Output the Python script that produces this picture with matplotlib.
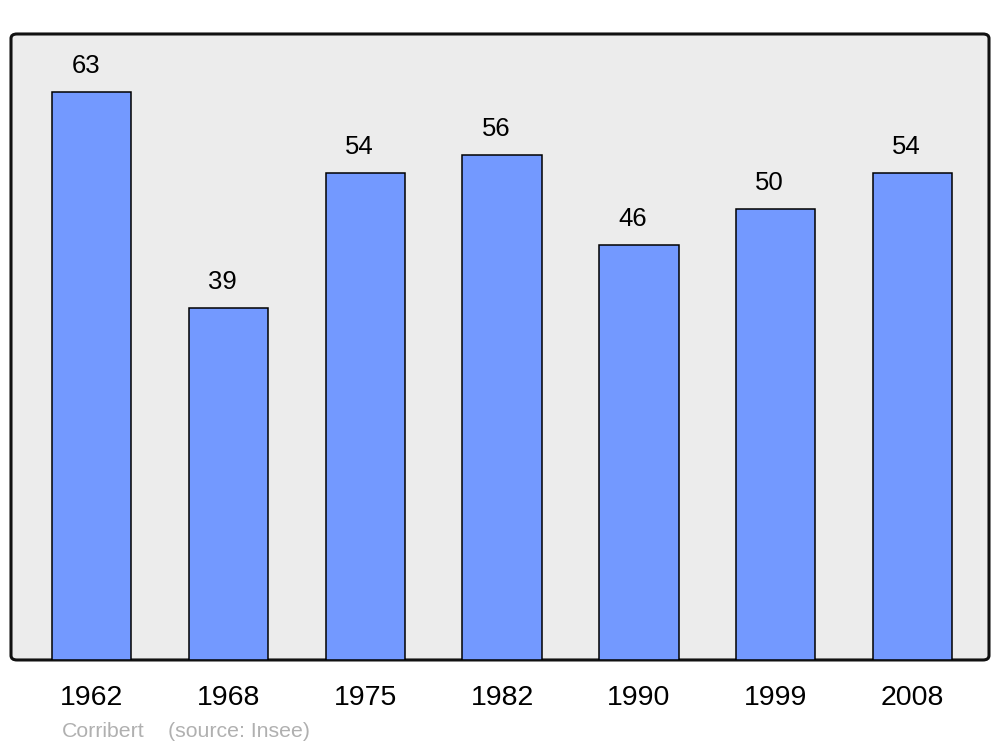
import matplotlib.pyplot as plt
from matplotlib.patches import FancyBboxPatch

plt.rcParams['font.family'] = ['Liberation Sans', 'DejaVu Sans']

# Population data
years = ["1962", "1968", "1975", "1982", "1990", "1999", "2008"]
population = [63, 39, 54, 56, 46, 50, 54]

fig = plt.figure(figsize=(10, 7.47), dpi=100)
ax = fig.add_axes([0.011, 0.1165, 0.978, 0.838])
ax.set_facecolor('none')
ax.set_zorder(2)

# Rounded grey frame behind the axes
frame = FancyBboxPatch((0.011, 0.1165), 0.978, 0.838,
                       boxstyle="round,pad=0,rounding_size=0.006",
                       transform=fig.transFigure, facecolor='#ececec',
                       edgecolor='#111111', linewidth=2.2, zorder=0)
fig.patches.append(frame)

x = range(len(years))
ax.bar(x, population, width=0.58, color='#7399ff', edgecolor='black', linewidth=1.1)

for i, v in zip(x, population):
    ax.annotate(str(v), (i, v), xytext=(-4.3, 13.6), textcoords='offset points',
                ha='center', va='baseline', fontsize=18.5)

ax.set_xlim(-0.59, 6.56)
ax.set_ylim(0, 69.4)
ax.set_xticks(list(x))
ax.set_xticklabels(years, fontsize=20.5)
ax.tick_params(axis='x', length=0, pad=18)
ax.set_yticks([])
for s in ax.spines.values():
    s.set_visible(False)

fig.text(0.062, 1 - 737 / 747, "Corribert", fontsize=15.3,
         color='#b0b0b0', va='baseline')
fig.text(0.168, 1 - 737 / 747, "(source: Insee)", fontsize=15.3,
         color='#b0b0b0', va='baseline')

fig.savefig('out.png', dpi=100)
